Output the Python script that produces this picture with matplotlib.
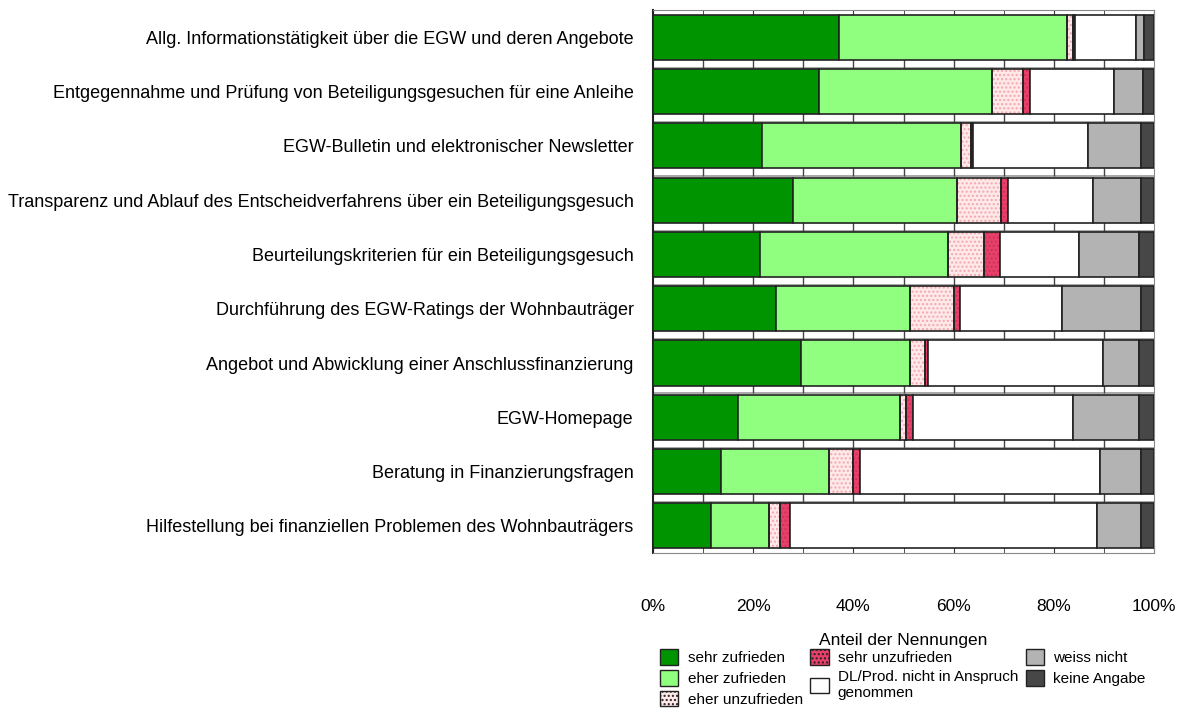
import matplotlib
matplotlib.use("Agg")
import matplotlib.pyplot as plt
from matplotlib.patches import Patch
import numpy as np

plt.rcParams['font.family'] = ['Liberation Sans', 'DejaVu Sans']

categories = [
    "Allg. Informationstätigkeit über die EGW und deren Angebote",
    "Entgegennahme und Prüfung von Beteiligungsgesuchen für eine Anleihe",
    "EGW-Bulletin und elektronischer Newsletter",
    "Transparenz und Ablauf des Entscheidverfahrens über ein Beteiligungsgesuch",
    "Beurteilungskriterien für ein Beteiligungsgesuch",
    "Durchführung des EGW-Ratings der Wohnbauträger",
    "Angebot und Abwicklung einer Anschlussfinanzierung",
    "EGW-Homepage",
    "Beratung in Finanzierungsfragen",
    "Hilfestellung bei finanziellen Problemen des Wohnbauträgers",
]

sehr_zufrieden   = [37.1, 33.1, 21.8, 27.9, 21.3, 24.5, 29.5, 16.9, 13.6, 11.6]
eher_zufrieden   = [45.5, 34.6, 39.7, 32.8, 37.5, 26.7, 21.7, 32.3, 21.5, 11.6]
eher_unzufrieden = [1.3, 6.2, 1.9, 8.8, 7.3, 8.9, 3.0, 1.3, 4.9, 2.2]
sehr_unzufrieden = [0.3, 1.3, 0.4, 1.4, 3.2, 1.2, 0.6, 1.3, 1.3, 2.0]
nicht_in_anspruch = [12.1, 16.8, 23.0, 17.0, 15.8, 20.3, 35.0, 32.0, 47.9, 61.3]
weiss_nicht      = [1.7, 5.7, 10.5, 9.5, 11.9, 15.8, 7.2, 13.2, 8.2, 8.7]
keine_angabe     = [2.0, 2.3, 2.7, 2.6, 3.0, 2.6, 3.0, 3.0, 2.6, 2.6]

series_labels = ["sehr zufrieden", "eher zufrieden", "eher unzufrieden",
                 "sehr unzufrieden", "DL/Prod. nicht in Anspruch\ngenommen",
                 "weiss nicht", "keine Angabe"]
series = [sehr_zufrieden, eher_zufrieden, eher_unzufrieden, sehr_unzufrieden,
          nicht_in_anspruch, weiss_nicht, keine_angabe]
colors = ["#009400", "#90ff80", "#ffe8e8", "#e8406a", "#ffffff", "#b3b3b3", "#474747"]
hatches = [None, None, "....", "....", None, None, None]
hatch_colors = [None, None, "#f2a8b0", "#c83458", None, None, None]
xticks = [0, 20, 40, 60, 80, 100]

fig = plt.figure(figsize=(11.84, 7.22), dpi=100)
ax = fig.add_axes([0.5515, 0.234, 0.4232, 0.752])

y = np.arange(len(categories))
bh = 0.83
left = np.zeros(len(categories))
handles = []
for vals, col, h, hc, lab in zip(series, colors, hatches, hatch_colors, series_labels):
    vals = np.array(vals)
    if h:
        ax.barh(y, vals, left=left, height=bh, color=col, hatch=h,
                edgecolor=hc, linewidth=0, zorder=2)
    ax.barh(y, vals, left=left, height=bh, color=(col if not h else "none"),
            edgecolor="#222222", linewidth=1.2, zorder=3)
    left += vals
    handles.append(Patch(facecolor=col, hatch=h, edgecolor="#222222", linewidth=1.0, label=lab))

ax.set_xlim(0, 100)
ax.set_ylim(len(categories) - 0.5, -0.5)
ax.set_yticks(y)
ax.set_yticklabels(categories, fontsize=13)
ax.tick_params(axis='y', length=0, pad=14)
ax.set_xticks(xticks)
ax.set_xticklabels([f"{v}%" for v in xticks], fontsize=12.5)
ax.set_xticks(np.arange(0, 101, 10), minor=True)
ax.tick_params(axis='x', which='both', direction='in', length=6, top=True,
               color='#333333', pad=33)

# band separators with ticks
for b in np.arange(0.5, len(categories) - 0.5, 1.0):
    ax.axhline(b + 0.06, color="#999999", lw=1.2, zorder=1)
    ax.vlines(np.arange(10, 100, 10), b - 0.1, b + 0.06, color="#444444", lw=1.0, zorder=1)

for s in ['top', 'bottom', 'right']:
    ax.spines[s].set_color('#888888')
ax.spines['left'].set_color('#222222')
ax.spines['left'].set_linewidth(1.5)

ax.set_xlabel("Anteil der Nennungen", fontsize=12.5, labelpad=14)

leg = fig.legend(handles=handles, ncol=3, loc='upper left',
                 bbox_to_anchor=(0.551, 0.111), frameon=False, fontsize=11,
                 handlelength=1.2, handleheight=1.2, handletextpad=0.6,
                 columnspacing=0.5, labelspacing=0.3, borderpad=0)

fig.savefig("out.png", dpi=100)
